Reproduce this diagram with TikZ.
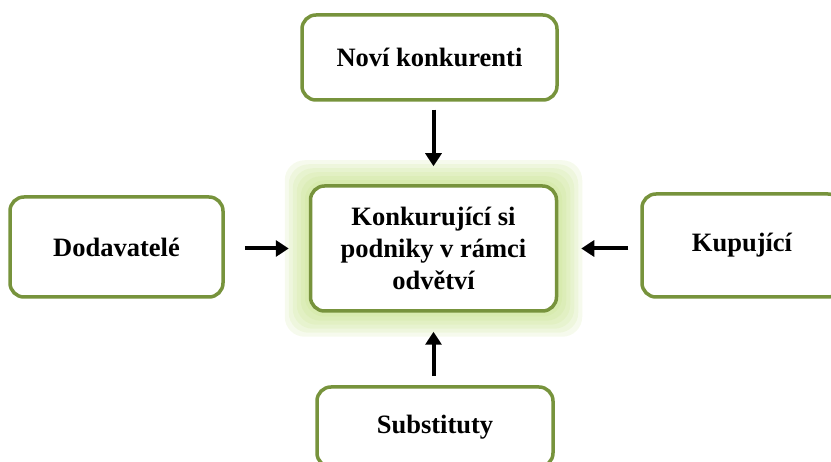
\documentclass[tikz,border=0pt]{standalone}
\usepackage{fontspec}
\setmainfont{Liberation Serif}
\usetikzlibrary{arrows.meta,calc,backgrounds}
\definecolor{olivebd}{HTML}{77933C}
\definecolor{glowc}{HTML}{BADB72}
\begin{document}
\begin{tikzpicture}[x=1pt,y=-1pt,
  box/.style={draw=olivebd, line width=3.5pt, rounded corners=14pt, fill=white,
    align=center, font=\bfseries\fontsize{26.5}{32}\selectfont, inner sep=0pt},
  arr/.style={-{Triangle[length=13pt,width=16pt]}, line width=4pt, black}]
\useasboundingbox (0,0) rectangle (831,462);
\clip (0,0) rectangle (831,462);
\node[box, minimum width=255pt, minimum height=85pt] (nov) at (429.5,57.5) {Noví konkurenti};
\node[box, minimum width=213pt, minimum height=100pt] (dod) at (116.5,247) {Dodavatelé};
\node[box, minimum width=246pt, minimum height=125pt] (cen) at (433.5,248.5) {Konkurující si\\podniky v rámci\\odvětví};
\node[box, minimum width=200pt, minimum height=103pt] (kup) at (742,245.5) {Kupující};
\node[box, minimum width=236pt, minimum height=80pt] (sub) at (435,427) {Substituty};
\begin{scope}[on background layer]
  \foreach \d in {24,20,16,12,8,4}
    \fill[glowc, fill opacity=0.13, rounded corners=20pt]
      ($(cen.north west)+(-\d,-\d)$) rectangle ($(cen.south east)+(\d,\d)$);
\end{scope}
\draw[arr, shorten <=8pt, shorten >=18pt] (cen.north |- nov.south) -- (cen.north);
\draw[arr, shorten <=9pt, shorten >=19pt] (cen.south |- sub.north) -- (cen.south);
\draw[arr, shorten <=20pt, shorten >=20pt] (dod.east |- cen.west) -- (cen.west);
\draw[arr, shorten <=12pt, shorten >=23pt] (kup.west |- cen.east) -- (cen.east);
\end{tikzpicture}
\end{document}
